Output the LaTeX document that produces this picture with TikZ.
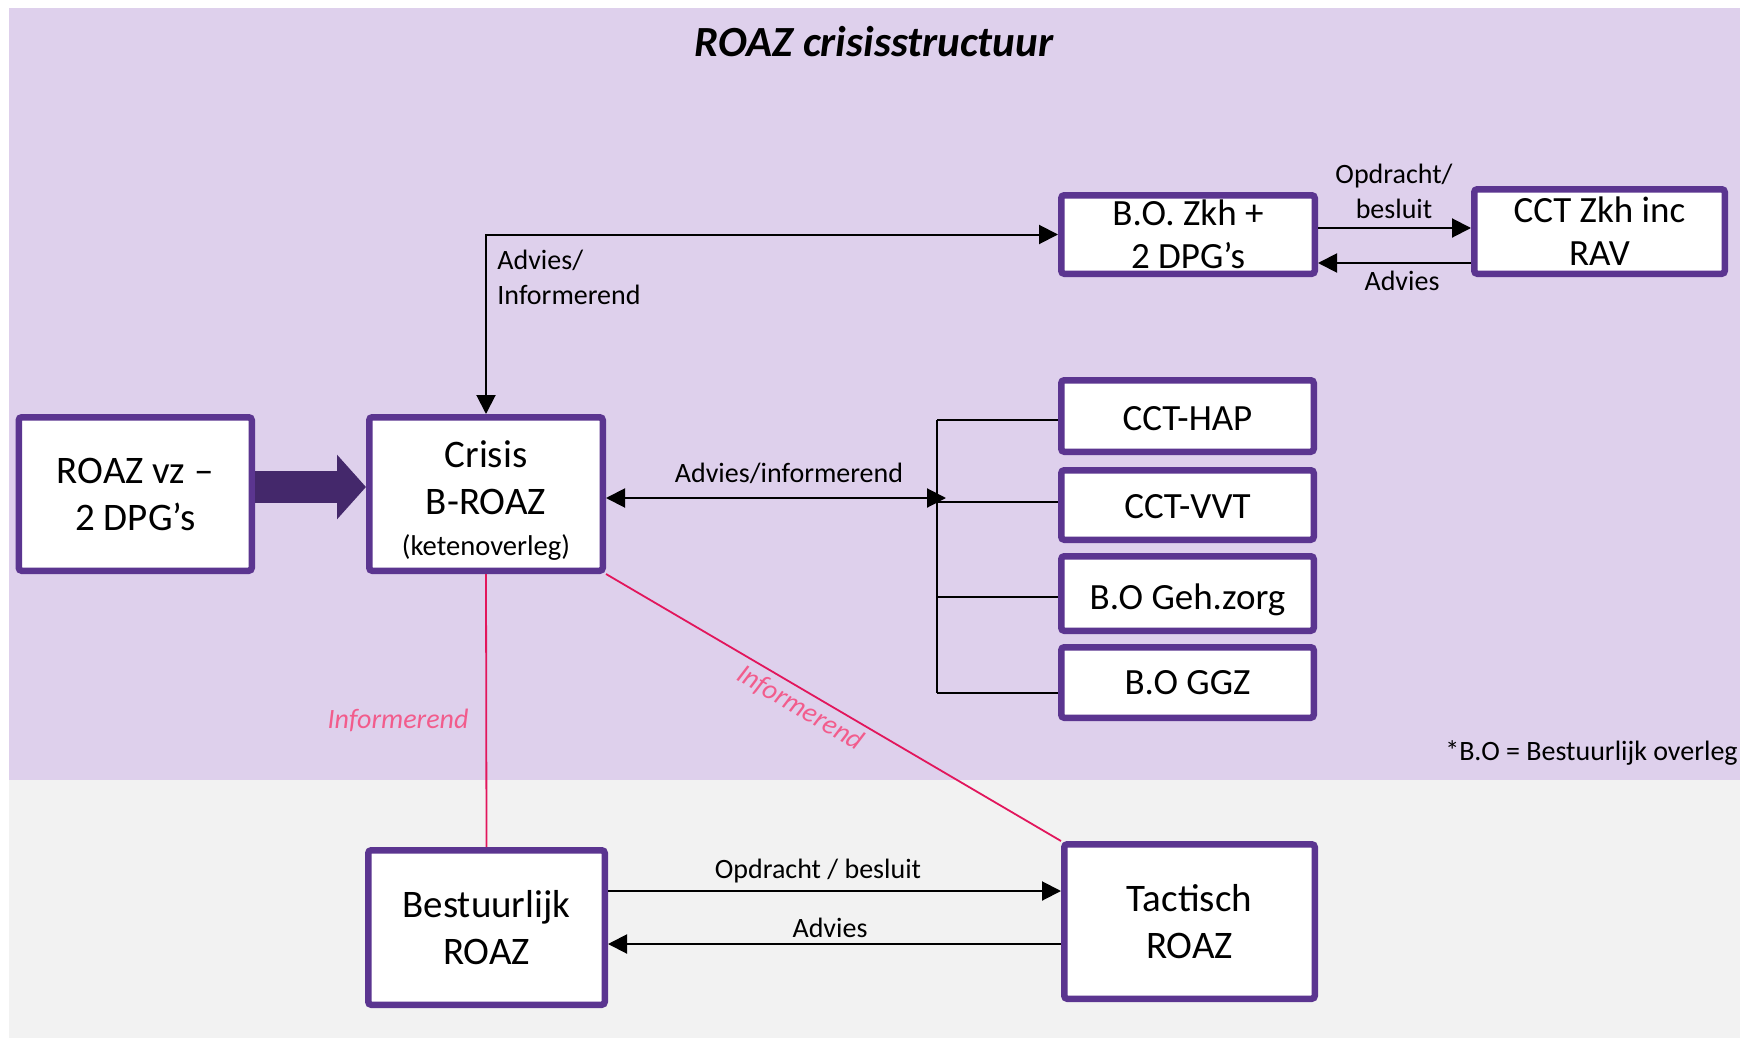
\documentclass[tikz,border=0pt]{standalone}
\usepackage{fontspec}
\setmainfont{Carlito}
\usetikzlibrary{arrows.meta}
\definecolor{bgpurple}{HTML}{DED0EC}
\definecolor{bggray}{HTML}{F2F2F2}
\definecolor{boxc}{HTML}{5B3590}
\definecolor{bigarr}{HTML}{44286B}
\definecolor{pinkline}{RGB}{226,22,92}
\definecolor{pinktext}{RGB}{242,92,140}
\begin{document}
\begin{tikzpicture}[x=0.5pt,y=-0.5pt,
  box/.style={draw=boxc, line width=3.25pt, fill=white, rounded corners=1.5pt, inner sep=0pt, align=center, text=black},
  bigfont/.style={font=\fontsize{19.5}{23.5}\selectfont},
  midfont/.style={font=\fontsize{18.5}{21.5}\selectfont},
  lbl/.style={font=\fontsize{14}{17.5}\selectfont, inner sep=0pt, text=black},
  conn/.style={line width=1pt, draw=black},
  arr/.style={conn, -{Triangle[length=9.5pt,width=9.5pt]}},
  darr/.style={conn, {Triangle[length=9.5pt,width=9.5pt]}-{Triangle[length=9.5pt,width=9.5pt]}},
  bigarrow/.style={draw=bigarr, line width=16pt, -{Triangle[length=14.5pt,width=31.5pt]}},
  pinkl/.style={draw=pinkline, line width=0.9pt},
  pinklbl/.style={font=\fontsize{14}{17}\selectfont\itshape, text=pinktext, inner sep=0pt}
]
\useasboundingbox (0,0) rectangle (1740,1038);
\fill[white] (0,0) rectangle (1740,1038);
\fill[bgpurple] (9,8) rectangle (1740,780);
\fill[bggray] (9,780) rectangle (1740,1038);

\node[font=\fontsize{21.5}{26}\selectfont\bfseries\itshape] (title) at (874,42) {ROAZ crisisstructuur};

% boxes
\node[box,bigfont,minimum width=116.5pt,minimum height=76.75pt] (roaz) at (135.25,494) {ROAZ vz –\\2 DPG’s};
\node[box,bigfont,minimum width=116.75pt,minimum height=76.75pt] (crisis) at (486,494) {\rule{0pt}{20pt}Crisis\\B-ROAZ\\[-3pt]{\fontsize{14.3}{17}\selectfont (ketenoverleg)}};
\node[box,midfont,minimum width=126.75pt,minimum height=39.25pt] (bozkh) at (1188,234.5) {B.O. Zkh +\\2 DPG’s};
\node[box,midfont,minimum width=125.25pt,minimum height=42.25pt] (cct) at (1599.5,231.5) {CCT Zkh inc\\RAV};
\node[box,midfont,minimum width=126.25pt,minimum height=35.75pt] (hap) at (1187.5,416) {\rule{0pt}{15pt}CCT-HAP};
\node[box,midfont,minimum width=126.25pt,minimum height=34.75pt] (vvt) at (1187.5,505) {\rule{0pt}{14pt}CCT-VVT};
\node[box,midfont,minimum width=126.25pt,minimum height=37.25pt] (geh) at (1187.5,593.5) {\raisebox{0pt}[\height][0pt]{\rule{0pt}{16pt}B.O Geh.zorg}};
\node[box,midfont,minimum width=126.25pt,minimum height=35.25pt] (ggz) at (1187.5,682.5) {B.O GGZ};
\node[box,bigfont,minimum width=118.25pt,minimum height=77.25pt] (best) at (486.5,927.5) {Bestuurlijk\\ROAZ};
\node[box,bigfont,minimum width=125.25pt,minimum height=77.25pt] (tact) at (1189.5,921.5) {Tactisch\\ROAZ};

% big arrow
\draw[bigarrow] ([yshift=3.5pt]roaz.east) -- ([yshift=3.5pt]crisis.west);

% crisis <-> B.O. Zkh
\draw[darr] (crisis.north) |- (bozkh.west);
\node[lbl, anchor=west, align=left] (l1) at (497,277) {Advies/\\Informerend};

% B.O. Zkh <-> CCT
\draw[arr] ([yshift=3.25pt]bozkh.east) -- ([yshift=3.25pt]bozkh.east -| cct.west);
\draw[arr] ([yshift=-14.25pt]bozkh.east -| cct.west) -- ([yshift=-14.25pt]bozkh.east);
\node[lbl, align=center] (l2) at (1394,191) {Opdracht/\\besluit};
\node[lbl] (l3) at (1402,281) {Advies};

% bus to right column
\coordinate (bt) at (937,420);
\coordinate (b2) at (937,502);
\coordinate (b3) at (937,597);
\coordinate (bb) at (937,693);
\coordinate (bj) at (946,498);
\draw[conn] (bt) -- (bb);
\draw[conn] (bt) -- (bt -| hap.west);
\draw[conn] (b2) -- (b2 -| vvt.west);
\draw[conn] (b3) -- (b3 -| geh.west);
\draw[conn] (bb) -- (bb -| ggz.west);
\draw[darr] ([yshift=-2pt]crisis.east) -- (bj);
\node[lbl] (l4) at (789,473) {Advies/informerend};

% pink lines
\draw[pinkl] (crisis.south) -- (best.north);
\node[pinklbl] (l5) at (398,720) {Informerend};
\draw[pinkl] (crisis.south east) -- (tact.north west)
  node[pinklbl, pos=0.446, sloped, below=2.5pt] (l6) {Informerend};

% bottom arrows
\draw[arr] ([yshift=18.25pt]best.east) -- ([yshift=18.25pt]best.east -| tact.west);
\draw[arr] ([yshift=-8.25pt]best.east -| tact.west) -- ([yshift=-8.25pt]best.east);
\node[lbl] (l7) at (818,871) {Opdracht / besluit};
\node[lbl] (l8) at (830,928) {Advies};

% footnote
\node[lbl, anchor=east] (fn) at (1738,753) {*B.O = Bestuurlijk overleg};
\end{tikzpicture}
\end{document}
